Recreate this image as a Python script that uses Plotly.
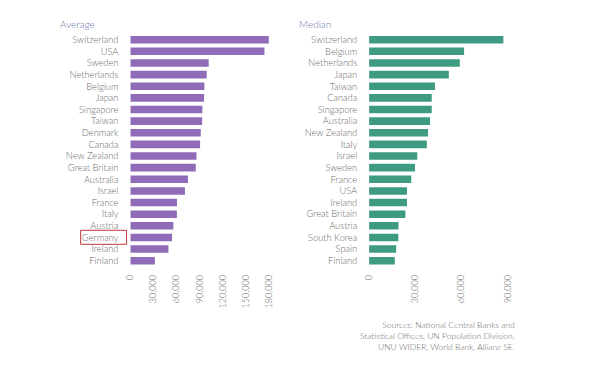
import plotly.graph_objects as go

avg_countries = ["Switzerland", "USA", "Sweden", "Netherlands", "Belgium", "Japan",
                 "Singapore", "Taiwan", "Denmark", "Canada", "New Zealand", "Great Britain",
                 "Australia", "Israel", "France", "Italy", "Austria", "Germany", "Ireland", "Finland"]
avg_values = [179800, 174200, 101800, 99200, 96200, 95800, 93600, 93300, 91500, 90600,
              85900, 85000, 74800, 70900, 60600, 60500, 55900, 54200, 49500, 31900]

med_countries = ["Switzerland", "Belgium", "Netherlands", "Japan", "Taiwan", "Canada",
                 "Singapore", "Australia", "New Zealand", "Italy", "Israel", "Sweden",
                 "France", "USA", "Ireland", "Great Britain", "Austria", "South Korea", "Spain", "Finland"]
med_values = [87200, 61700, 58900, 51800, 42800, 40700, 40700, 39600, 38300, 37500,
              31300, 29800, 27400, 24600, 24600, 23600, 19100, 19000, 17600, 16700]

avg_ticks = [0, 30000, 60000, 90000, 120000, 150000, 180000]
med_ticks = [0, 30000, 60000, 90000]

# page has an 8px body margin; lay the figure out in page pixel coordinates
OFF = 8
W, H = 609 - 2 * OFF, 372 - 2 * OFF
FONT = "Lato"
LABEL_COLOR = "#6b6b6b"
TITLE_COLOR = "#6f7bb0"


def px(x):
    return (x - OFF) / W


def py(y):
    return (H - (y - OFF)) / H


fig = go.Figure()
fig.add_trace(go.Bar(x=avg_values, y=avg_countries, orientation="h",
                     marker=dict(color="#8f6bb8", line=dict(width=0)),
                     xaxis="x", yaxis="y", hoverinfo="x+y"))
fig.add_trace(go.Bar(x=med_values, y=med_countries, orientation="h",
                     marker=dict(color="#3f9a82", line=dict(width=0)),
                     xaxis="x2", yaxis="y2", hoverinfo="x+y"))

ydom = [py(266.5), py(33.9)]
x1_0, x1_1 = 125.5, 271.8
x2_0, x2_1 = 366.7, 514.5


def xaxis(dom, rng, ticks, anchor):
    return dict(domain=[px(dom[0]), px(dom[1])], range=rng, anchor=anchor,
                tickvals=ticks, ticktext=[f"{t:,}" for t in ticks],
                tickangle=-90, showgrid=False, zeroline=False, showline=False,
                ticks="outside", ticklen=4, tickcolor="rgba(0,0,0,0)",
                tickfont=dict(family=FONT, size=9, color=LABEL_COLOR, weight=300),
                fixedrange=True)


def yaxis(anchor):
    return dict(domain=ydom, anchor=anchor, autorange="reversed", type="category",
                showgrid=False, zeroline=False, showline=False,
                ticks="outside", ticklen=9, tickcolor="rgba(0,0,0,0)",
                tickfont=dict(family=FONT, size=9.3, color=LABEL_COLOR, weight=300),
                fixedrange=True)


fig.update_layout(
    width=W, height=H, autosize=False,
    margin=dict(l=0, r=0, t=0, b=0),
    paper_bgcolor="white", plot_bgcolor="white",
    showlegend=False, bargap=0.35,
    xaxis=xaxis((x1_0, x1_1), [0, (x1_1 - x1_0) / 0.778 * 1000], avg_ticks, "y"),
    yaxis=yaxis("x"),
    xaxis2=xaxis((x2_0, x2_1), [0, (x2_1 - x2_0) / 1.5556 * 1000], med_ticks, "y2"),
    yaxis2=yaxis("x2"),
)

fig.add_annotation(text="Average", xref="paper", yref="paper", x=px(52), y=py(24),
                   xanchor="left", yanchor="middle", showarrow=False,
                   font=dict(family=FONT, size=10, color=TITLE_COLOR, weight=300))
fig.add_annotation(text="Median", xref="paper", yref="paper", x=px(294), y=py(24),
                   xanchor="left", yanchor="middle", showarrow=False,
                   font=dict(family=FONT, size=10, color=TITLE_COLOR, weight=300))

# highlight box around Germany label
fig.add_shape(type="rect", xref="paper", yref="paper",
              x0=px(75.3), x1=px(121.7), y0=py(244.3), y1=py(230.3),
              line=dict(color="#c0393b", width=1), fillcolor="rgba(0,0,0,0)")

fig.add_annotation(text="Sources: National Central Banks and<br>Statistical Offices, UN Population Division,<br>UNU WIDER, World Bank, Allianz SE.",
                   xref="paper", yref="paper", x=px(516), y=py(336),
                   xanchor="right", yanchor="middle", align="right", showarrow=False,
                   font=dict(family=FONT, size=8.5, color=LABEL_COLOR, weight=300))

fig.write_html("out.html")
